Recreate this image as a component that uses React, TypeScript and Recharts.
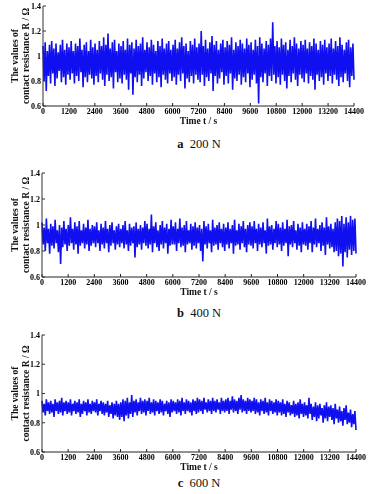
import { LineChart, Line, XAxis, YAxis, Label } from "recharts";

// time axis ticks (s) and resistance ticks (Ω)
const timeTicks = [0, 1200, 2400, 3600, 4800, 6000, 7200, 8400, 9600, 10800, 12000, 13200, 14400];
const resTicks = [0.6, 0.8, 1, 1.2, 1.4];

// 200 N: upper and lower swings, one row per 1200 s
const aHi = [
  1.08, 1.11, 1.04, 1.09, 1.12, 1.06, 1.10, 1.03, 1.09, 1.13, 1.05, 1.10,
  1.07, 1.12, 1.04, 1.10, 1.08, 1.14, 1.05, 1.09, 1.11, 1.04, 1.13, 1.07,
  1.10, 1.05, 1.12, 1.08, 1.15, 1.09, 1.18, 1.06, 1.11, 1.13, 1.04, 1.10,
  1.08, 1.12, 1.05, 1.14, 1.09, 1.11, 1.06, 1.13, 1.08, 1.10, 1.15, 1.05,
  1.11, 1.07, 1.13, 1.09, 1.04, 1.12, 1.08, 1.14, 1.06, 1.10, 1.12, 1.05,
  1.09, 1.13, 1.06, 1.11, 1.15, 1.08, 1.10, 1.04, 1.12, 1.09, 1.14, 1.07,
  1.10, 1.20, 1.08, 1.13, 1.06, 1.11, 1.16, 1.09, 1.12, 1.05, 1.10, 1.13,
  1.07, 1.12, 1.09, 1.15, 1.05, 1.11, 1.08, 1.13, 1.10, 1.06, 1.14, 1.09,
  1.11, 1.05, 1.13, 1.08, 1.15, 1.10, 1.06, 1.12, 1.09, 1.14, 1.27, 1.08,
  1.12, 1.07, 1.14, 1.09, 1.11, 1.05, 1.13, 1.08, 1.15, 1.10, 1.06, 1.12,
  1.09, 1.13, 1.06, 1.11, 1.08, 1.14, 1.10, 1.05, 1.12, 1.09, 1.13, 1.07,
  1.10, 1.14, 1.06, 1.12, 1.08, 1.15, 1.09, 1.05, 1.11, 1.13, 1.07, 1.10,
];
const aLo = [
  0.80, 0.72, 0.84, 0.78, 0.86, 0.76, 0.82, 0.88, 0.79, 0.83, 0.77, 0.85,
  0.81, 0.86, 0.78, 0.84, 0.80, 0.87, 0.75, 0.83, 0.79, 0.85, 0.82, 0.77,
  0.84, 0.79, 0.86, 0.81, 0.76, 0.85, 0.80, 0.83, 0.74, 0.87, 0.79, 0.82,
  0.78, 0.85, 0.81, 0.73, 0.86, 0.69, 0.83, 0.79, 0.85, 0.76, 0.82, 0.87,
  0.80, 0.84, 0.77, 0.86, 0.79, 0.83, 0.75, 0.85, 0.81, 0.78, 0.86, 0.80,
  0.83, 0.77, 0.85, 0.80, 0.86, 0.74, 0.82, 0.79, 0.84, 0.78, 0.85, 0.81,
  0.79, 0.85, 0.76, 0.83, 0.80, 0.86, 0.72, 0.84, 0.78, 0.82, 0.87, 0.77,
  0.84, 0.78, 0.86, 0.73, 0.82, 0.80, 0.85, 0.77, 0.83, 0.79, 0.86, 0.75,
  0.81, 0.85, 0.78, 0.62, 0.83, 0.79, 0.86, 0.76, 0.84, 0.80, 0.85, 0.78,
  0.83, 0.77, 0.85, 0.80, 0.74, 0.84, 0.79, 0.86, 0.81, 0.76, 0.85, 0.82,
  0.79, 0.86, 0.78, 0.84, 0.81, 0.73, 0.85, 0.80, 0.83, 0.77, 0.86, 0.80,
  0.84, 0.78, 0.85, 0.81, 0.76, 0.83, 0.79, 0.86, 0.80, 0.75, 0.84, 0.81,
];

// 400 N
const bHi = [
  1.02, 0.98, 1.05, 0.97, 1.01, 0.99, 1.04, 0.96, 1.00, 0.98, 1.03, 0.97,
  1.00, 1.06, 0.97, 1.02, 0.99, 1.03, 0.96, 1.01, 0.98, 1.04, 0.97, 1.00,
  0.99, 1.02, 0.96, 1.01, 0.98, 1.03, 0.97, 1.00, 1.02, 0.96, 0.99, 1.01,
  0.97, 1.00, 1.03, 0.96, 1.01, 0.98, 0.99, 1.02, 0.97, 1.00, 0.98, 1.03,
  1.01, 0.97, 1.08, 0.99, 1.02, 0.96, 1.00, 1.03, 0.98, 1.01, 0.97, 1.04,
  0.99, 1.02, 0.97, 1.05, 0.98, 1.00, 1.03, 0.96, 1.01, 0.99, 1.02, 0.98,
  1.00, 0.97, 1.03, 0.99, 1.01, 0.96, 1.04, 0.98, 1.00, 1.02, 0.97, 1.01,
  0.98, 1.02, 0.97, 1.00, 1.04, 0.96, 1.01, 0.99, 1.03, 0.97, 1.00, 1.02,
  0.99, 1.03, 0.97, 1.01, 0.98, 1.02, 0.96, 1.05, 0.99, 1.00, 0.97, 1.03,
  1.01, 0.98, 1.02, 0.97, 1.04, 0.99, 1.00, 1.03, 0.96, 1.01, 0.98, 1.02,
  0.97, 1.01, 0.99, 1.03, 0.98, 1.05, 0.97, 1.00, 1.02, 0.98, 1.06, 0.99,
  1.01, 0.97, 1.02, 1.05, 1.03, 1.07, 1.01, 1.06, 1.02, 1.07, 1.04, 1.05,
];
const bLo = [
  0.85, 0.80, 0.86, 0.78, 0.84, 0.82, 0.86, 0.79, 0.70, 0.83, 0.85, 0.80,
  0.84, 0.86, 0.81, 0.85, 0.78, 0.84, 0.86, 0.82, 0.85, 0.80, 0.84, 0.86,
  0.83, 0.86, 0.80, 0.85, 0.82, 0.86, 0.79, 0.84, 0.86, 0.81, 0.85, 0.83,
  0.86, 0.82, 0.85, 0.80, 0.84, 0.86, 0.75, 0.83, 0.85, 0.81, 0.86, 0.84,
  0.82, 0.85, 0.79, 0.86, 0.83, 0.80, 0.85, 0.82, 0.86, 0.78, 0.84, 0.85,
  0.85, 0.80, 0.86, 0.83, 0.84, 0.79, 0.85, 0.86, 0.81, 0.84, 0.82, 0.86,
  0.80, 0.72, 0.85, 0.82, 0.86, 0.79, 0.84, 0.85, 0.81, 0.86, 0.83, 0.80,
  0.85, 0.82, 0.86, 0.78, 0.84, 0.85, 0.81, 0.86, 0.83, 0.79, 0.85, 0.84,
  0.82, 0.86, 0.80, 0.85, 0.83, 0.86, 0.78, 0.84, 0.85, 0.81, 0.86, 0.83,
  0.85, 0.80, 0.84, 0.86, 0.76, 0.85, 0.83, 0.86, 0.81, 0.84, 0.79, 0.85,
  0.84, 0.81, 0.86, 0.79, 0.85, 0.83, 0.86, 0.80, 0.84, 0.77, 0.85, 0.82,
  0.83, 0.79, 0.80, 0.76, 0.78, 0.68, 0.79, 0.75, 0.81, 0.77, 0.80, 0.78,
];

// 600 N
const cHi = [
  0.95, 0.93, 0.96, 0.94, 0.95, 0.93, 0.96, 0.94, 0.95, 0.97, 0.94, 0.95,
  0.94, 0.96, 0.93, 0.95, 0.94, 0.96, 0.93, 0.95, 0.94, 0.96, 0.93, 0.95,
  0.94, 0.96, 0.93, 0.95, 0.94, 0.93, 0.95, 0.92, 0.94, 0.93, 0.95, 0.93,
  0.94, 0.96, 0.95, 0.97, 0.94, 0.99, 0.95, 0.96, 0.94, 0.97, 0.95, 0.96,
  0.95, 0.97, 0.94, 0.96, 0.95, 0.94, 0.96, 0.95, 0.93, 0.95, 0.94, 0.96,
  0.95, 0.94, 0.96, 0.95, 0.97, 0.94, 0.96, 0.95, 0.94, 0.96, 0.95, 0.97,
  0.96, 0.95, 0.97, 0.94, 0.96, 0.95, 0.97, 0.95, 0.96, 0.94, 0.97, 0.95,
  0.96, 0.97, 0.95, 0.98, 0.96, 0.95, 0.97, 0.99, 0.96, 0.95, 0.97, 0.96,
  0.95, 0.97, 0.96, 0.94, 0.96, 0.95, 0.97, 0.94, 0.96, 0.95, 0.94, 0.96,
  0.95, 0.94, 0.96, 0.93, 0.95, 0.94, 0.92, 0.95, 0.93, 0.94, 0.96, 0.93,
  0.94, 0.92, 0.97, 0.93, 0.91, 0.94, 0.92, 0.93, 0.90, 0.92, 0.94, 0.91,
  0.92, 0.90, 0.93, 0.89, 0.91, 0.88, 0.90, 0.92, 0.87, 0.89, 0.86, 0.88,
];
const cLo = [
  0.87, 0.85, 0.88, 0.86, 0.87, 0.84, 0.88, 0.86, 0.87, 0.85, 0.88, 0.86,
  0.87, 0.85, 0.88, 0.86, 0.87, 0.84, 0.86, 0.88, 0.85, 0.87, 0.86, 0.88,
  0.87, 0.85, 0.88, 0.86, 0.85, 0.87, 0.84, 0.86, 0.83, 0.85, 0.84, 0.82,
  0.84, 0.81, 0.85, 0.83, 0.86, 0.84, 0.87, 0.85, 0.88, 0.86, 0.87, 0.85,
  0.88, 0.86, 0.87, 0.85, 0.88, 0.86, 0.87, 0.85, 0.88, 0.86, 0.84, 0.87,
  0.88, 0.86, 0.87, 0.85, 0.88, 0.86, 0.88, 0.87, 0.85, 0.88, 0.86, 0.87,
  0.88, 0.86, 0.89, 0.87, 0.88, 0.86, 0.88, 0.87, 0.89, 0.86, 0.88, 0.87,
  0.88, 0.86, 0.89, 0.87, 0.88, 0.86, 0.89, 0.87, 0.88, 0.86, 0.88, 0.87,
  0.88, 0.86, 0.87, 0.85, 0.88, 0.86, 0.87, 0.85, 0.88, 0.86, 0.87, 0.85,
  0.87, 0.85, 0.86, 0.84, 0.87, 0.85, 0.86, 0.84, 0.85, 0.83, 0.86, 0.84,
  0.85, 0.83, 0.86, 0.82, 0.84, 0.81, 0.83, 0.85, 0.80, 0.83, 0.81, 0.84,
  0.82, 0.79, 0.83, 0.80, 0.81, 0.78, 0.82, 0.79, 0.80, 0.77, 0.79, 0.75,
];

// interleave the swings into one trace over 0..14400 s
function toSeries(hi: number[], lo: number[]) {
  const vals: number[] = [];
  hi.forEach((h, i) => {
    vals.push(h);
    vals.push(lo[i]);
  });
  return vals.map((v, k) => ({ t: (k * 14400) / (vals.length - 1), v }));
}

const panels = [
  { key: "a", load: "200 N", data: toSeries(aHi, aLo), top: 0, plotTop: 6, plotBottom: 106, left: 43, right: 354, caption: 148 },
  { key: "b", load: "400 N", data: toSeries(bHi, bLo), top: 165, plotTop: 173, plotBottom: 277, left: 42, right: 356, caption: 317 },
  { key: "c", load: "600 N", data: toSeries(cHi, cLo), top: 327, plotTop: 335, plotBottom: 452, left: 42, right: 356, caption: 487 },
];

const serif = "'Liberation Serif', 'Times New Roman', serif";
const tickStyle = { fontSize: 8, fontWeight: 700, fill: "#000", fontFamily: serif };

function Panel({ p }: { p: (typeof panels)[number] }) {
  const height = p.plotBottom + 22 - p.top;
  const midY = (p.plotTop + p.plotBottom) / 2 - p.top;
  const midX = (p.left + p.right) / 2;
  return (
    <div style={{ position: "absolute", left: 0, top: p.top, willChange: "transform" }}>
      <LineChart width={375} height={height} data={p.data} margin={{ top: p.plotTop - p.top, right: 375 - p.right, bottom: 0, left: 0 }}>
        <XAxis
          dataKey="t"
          type="number"
          domain={[0, 14400]}
          ticks={timeTicks}
          interval={0}
          height={22}
          tickSize={-3}
          tickMargin={5}
          tick={tickStyle}
          stroke="#222"
        >
          <Label
            content={() => (
              <text x={midX} y={p.plotBottom - p.top + 18} textAnchor="middle" fontFamily={serif} fontWeight={700} fontSize={9.5} fill="#111">
                Time t / s
              </text>
            )}
          />
        </XAxis>
        <YAxis
          type="number"
          domain={[0.6, 1.4]}
          ticks={resTicks}
          interval={0}
          width={p.left}
          tickSize={-3}
          tickMargin={5}
          tick={tickStyle}
          stroke="#333"
          allowDataOverflow
        >
          <Label
            content={() => (
              <g fontFamily={serif} fontWeight={700} fontSize={9.5} fill="#111">
                <text textAnchor="middle" transform={`translate(17.5, ${midY}) rotate(-90)`}>The values of</text>
                <text textAnchor="middle" transform={`translate(28.5, ${midY}) rotate(-90)`}>contact resistance R / Ω</text>
              </g>
            )}
          />
        </YAxis>
        <Line type="linear" dataKey="v" stroke="#0f0fef" strokeWidth={1.6} dot={false} isAnimationActive={false} />
      </LineChart>
    </div>
  );
}

export default function App() {
  return (
    <div style={{ position: "absolute", left: 0, top: 0, width: 375, height: 494, background: "#fff", overflow: "hidden" }}>
      {panels.map((p) => (
        <Panel key={p.key} p={p} />
      ))}
      {panels.map((p) => (
        <div
          key={"cap" + p.key}
          style={{
            position: "absolute",
            left: 99,
            width: 200,
            top: p.caption - 10.5,
            textAlign: "center",
            fontFamily: serif,
            fontSize: 12.5,
            lineHeight: "12.5px",
            color: "#111",
            whiteSpace: "nowrap",
          }}
        >
          <b>{p.key}</b>&nbsp; {p.load}
        </div>
      ))}
    </div>
  );
}
